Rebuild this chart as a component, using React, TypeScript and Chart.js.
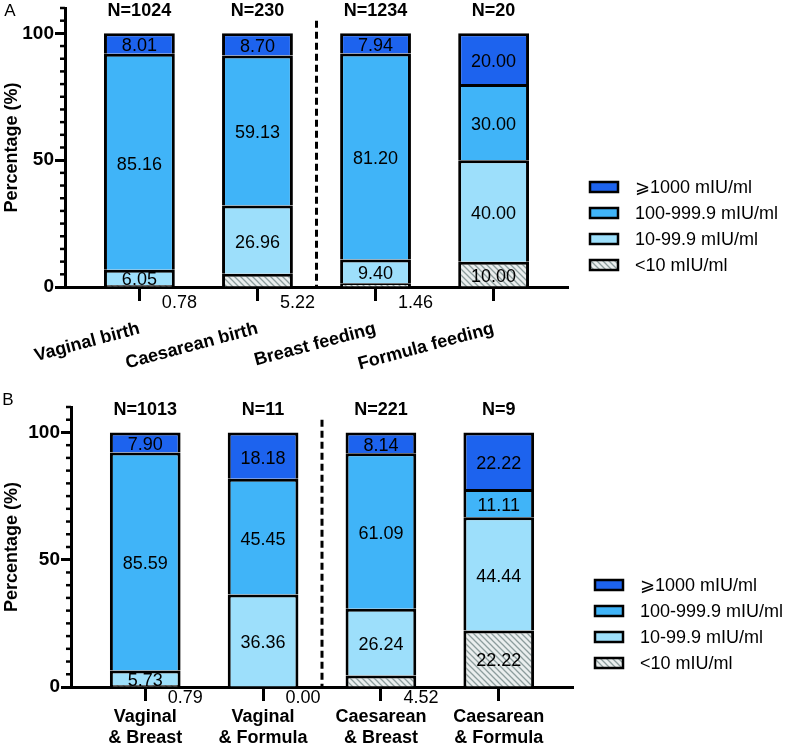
import { useEffect, useRef } from 'react';
import { Chart, registerables } from 'chart.js';

Chart.register(...registerables);

const FONT = '"Liberation Sans", Arial, Helvetica, sans-serif';

// series (bottom to top of each stack)
const seriesNames = ['<10 mIU/ml', '10-99.9 mIU/ml', '100-999.9 mIU/ml', '⩾1000 mIU/ml'];
const seriesColors = ['hatch', '#9ddffb', '#40b4f8', '#1d63ee'];

// panel A
const categoriesA = ['Vaginal birth', 'Caesarean birth', 'Breast feeding', 'Formula feeding'];
const countsA = [1024, 230, 1234, 20];
const below10A = [0.78, 5.22, 1.46, 10.0];
const from10A = [6.05, 26.96, 9.4, 40.0];
const from100A = [85.16, 59.13, 81.2, 30.0];
const over1000A = [8.01, 8.7, 7.94, 20.0];

// panel B
const categoriesB = [
  ['Vaginal', '& Breast'],
  ['Vaginal', '& Formula'],
  ['Caesarean', '& Breast'],
  ['Caesarean', '& Formula'],
];
const countsB = [1013, 11, 221, 9];
const below10B = [0.79, 0.0, 4.52, 22.22];
const from10B = [5.73, 36.36, 26.24, 44.44];
const from100B = [85.59, 45.45, 61.09, 11.11];
const over1000B = [7.9, 18.18, 8.14, 22.22];

const yMajorTicks = [0, 50, 100];

interface Layout {
  top: number;
  height: number;
  chartTop: number;
  chartRight: number;
  axisLeft: number;
  xHeight: number;
  rotation: number;
  labelPad: number;
  outsideDy: number;
  legendBoxX: number;
  legendTextX: number;
  legendY: number;
  legendStep: number;
  letterX: number;
  letterY: number;
}

interface PanelProps {
  letter: string;
  categories: (string | string[])[];
  counts: number[];
  series: number[][];
  lay: Layout;
}

function makeHatch(): CanvasPattern | string {
  const c = document.createElement('canvas');
  c.width = 6;
  c.height = 6;
  const g = c.getContext('2d');
  if (!g) return '#e8eded';
  g.fillStyle = '#eaeeee';
  g.fillRect(0, 0, 6, 6);
  g.strokeStyle = '#8c9c9c';
  g.lineWidth = 1.3;
  g.beginPath();
  g.moveTo(-1, -1);
  g.lineTo(7, 7);
  g.moveTo(-1, 5);
  g.lineTo(1, 7);
  g.moveTo(5, -1);
  g.lineTo(7, 1);
  g.stroke();
  return g.createPattern(c, 'repeat') || '#e8eded';
}

const Panel: React.FC<PanelProps> = ({ letter, categories, counts, series, lay }) => {
  const canvasRef = useRef<HTMLCanvasElement>(null);

  useEffect(() => {
    if (!canvasRef.current) return;
    const hatch = makeHatch();
    const fills = seriesColors.map((c) => (c === 'hatch' ? hatch : c));

    const overlay = {
      id: 'overlay',
      afterDatasetsDraw(chart: any) {
        const ctx = chart.ctx;
        const area = chart.chartArea;
        ctx.save();
        ctx.font = `18px ${FONT}`;
        ctx.fillStyle = '#000';
        ctx.textAlign = 'center';
        ctx.textBaseline = 'middle';
        chart.data.datasets.forEach((ds: any, di: number) => {
          const meta = chart.getDatasetMeta(di);
          meta.data.forEach((el: any, i: number) => {
            const v = ds.data[i].y;
            const txt = v.toFixed(2);
            if (di === 0 && v < 10) {
              // small "<10" shares go under the axis, right of the tick
              ctx.fillText(txt, el.x + 40, area.bottom + lay.outsideDy);
            } else {
              ctx.fillText(txt, el.x, (el.y + el.base) / 2 + 3);
            }
          });
        });
        ctx.restore();
      },
      afterDraw(chart: any) {
        const ctx = chart.ctx;
        const area = chart.chartArea;
        const xs = chart.scales.x;
        const ys = chart.scales.y;
        ctx.save();

        // minor y ticks
        ctx.strokeStyle = '#000';
        ctx.lineWidth = 2.5;
        for (let v = 5; v <= 110; v += 5) {
          if (yMajorTicks.includes(v)) continue;
          const py = ys.getPixelForValue(v);
          ctx.beginPath();
          ctx.moveTo(area.left - 5, py);
          ctx.lineTo(area.left, py);
          ctx.stroke();
        }

        // dashed separator
        const dx = xs.getPixelForValue(1.5);
        ctx.setLineDash([7, 4]);
        ctx.lineWidth = 3;
        ctx.beginPath();
        ctx.moveTo(dx, ys.getPixelForValue(105));
        ctx.lineTo(dx, area.bottom);
        ctx.stroke();
        ctx.setLineDash([]);

        // N labels
        ctx.font = `bold 18px ${FONT}`;
        ctx.fillStyle = '#000';
        ctx.textAlign = 'center';
        ctx.textBaseline = 'middle';
        counts.forEach((n, i) => {
          ctx.fillText(`N=${n}`, xs.getPixelForValue(i), ys.getPixelForValue(109));
        });

        // panel letter
        ctx.font = `17px ${FONT}`;
        ctx.fillText(letter, lay.letterX, lay.letterY);

        // legend (top entry = last series)
        ctx.font = `18px ${FONT}`;
        ctx.textAlign = 'left';
        for (let k = 0; k < seriesNames.length; k++) {
          const si = seriesNames.length - 1 - k;
          const cy = lay.legendY + k * lay.legendStep;
          ctx.fillStyle = fills[si];
          ctx.fillRect(lay.legendBoxX, cy - 5, 28, 10);
          ctx.lineWidth = 2.5;
          ctx.strokeStyle = '#000';
          ctx.strokeRect(lay.legendBoxX, cy - 5, 28, 10);
          ctx.fillStyle = '#000';
          ctx.fillText(seriesNames[si], lay.legendTextX, cy + 1);
        }
        ctx.restore();
      },
    };

    const chart = new Chart(canvasRef.current, {
      type: 'bar',
      data: {
        datasets: series.map((vals, si) => ({
          label: seriesNames[si],
          data: vals.map((v, i) => ({ x: i, y: v })),
          backgroundColor: fills[si],
          borderColor: '#000',
          borderWidth: 3,
          borderSkipped: 'start',
          categoryPercentage: 0.6,
          barPercentage: 1,
        })),
      },
      options: {
        animation: false,
        responsive: true,
        maintainAspectRatio: false,
        layout: {
          padding: { top: lay.chartTop, right: 787 - lay.chartRight, left: 0, bottom: 0 },
        },
        plugins: { legend: { display: false }, tooltip: { enabled: false } },
        scales: {
          x: {
            type: 'linear',
            stacked: true,
            min: -0.63,
            max: 3.63,
            offset: false,
            z: 1,
            border: { display: true, color: '#000', width: 3 },
            grid: {
              offset: false,
              drawOnChartArea: false,
              drawTicks: true,
              tickLength: 14,
              tickWidth: 3,
              tickColor: '#000',
            },
            afterBuildTicks: (scale: any) => {
              scale.ticks = categories.map((_, i) => ({ value: i }));
            },
            afterFit: (scale: any) => {
              scale.height = lay.xHeight;
              scale.paddingLeft = 0;
              scale.paddingRight = 0;
            },
            ticks: {
              autoSkip: false,
              minRotation: lay.rotation,
              maxRotation: lay.rotation,
              padding: lay.labelPad,
              color: '#000',
              font: { family: FONT, size: 18, weight: 'bold' },
              callback: (v: any) => categories[Math.round(Number(v))] as any,
            },
          },
          y: {
            type: 'linear',
            stacked: true,
            min: 0,
            max: 110,
            z: 1,
            border: { display: true, color: '#000', width: 3 },
            grid: {
              drawOnChartArea: false,
              drawTicks: true,
              tickLength: 10,
              tickWidth: 3,
              tickColor: '#000',
            },
            afterBuildTicks: (scale: any) => {
              scale.ticks = yMajorTicks.map((v) => ({ value: v }));
            },
            afterFit: (scale: any) => {
              scale.width = lay.axisLeft;
              scale.paddingTop = 0;
              scale.paddingBottom = 0;
            },
            title: {
              display: true,
              text: 'Percentage (%)',
              color: '#000',
              font: { family: FONT, size: 18, weight: 'bold' },
              padding: { top: 1, bottom: 0 },
            },
            ticks: {
              padding: 1,
              color: '#000',
              font: { family: FONT, size: 19, weight: 'bold' },
            },
          },
        },
      },
      plugins: [overlay],
    } as any);
    return () => chart.destroy();
  }, [letter, categories, counts, series, lay]);

  return (
    <div style={{ position: 'absolute', left: 0, top: lay.top, width: 787, height: lay.height }}>
      <canvas ref={canvasRef}></canvas>
    </div>
  );
};

const layoutA: Layout = {
  top: 0, height: 370, chartTop: 8, chartRight: 568, axisLeft: 65, xHeight: 83,
  rotation: 15, labelPad: 17, outsideDy: 16,
  legendBoxX: 590, legendTextX: 635, legendY: 187, legendStep: 26, letterX: 10, letterY: 11,
};

const layoutB: Layout = {
  top: 370, height: 378, chartTop: 37, chartRight: 573, axisLeft: 71, xHeight: 61,
  rotation: 0, labelPad: 5, outsideDy: 11,
  legendBoxX: 595, legendTextX: 640, legendY: 215, legendStep: 26, letterX: 8, letterY: 30,
};

const seriesA = [below10A, from10A, from100A, over1000A];
const seriesB = [below10B, from10B, from100B, over1000B];

export default function App() {
  return (
    <div style={{ position: 'fixed', left: 0, top: 0, width: 787, height: 748, background: '#fff' }}>
      <Panel letter="A" categories={categoriesA} counts={countsA} series={seriesA} lay={layoutA} />
      <Panel letter="B" categories={categoriesB} counts={countsB} series={seriesB} lay={layoutB} />
    </div>
  );
}
